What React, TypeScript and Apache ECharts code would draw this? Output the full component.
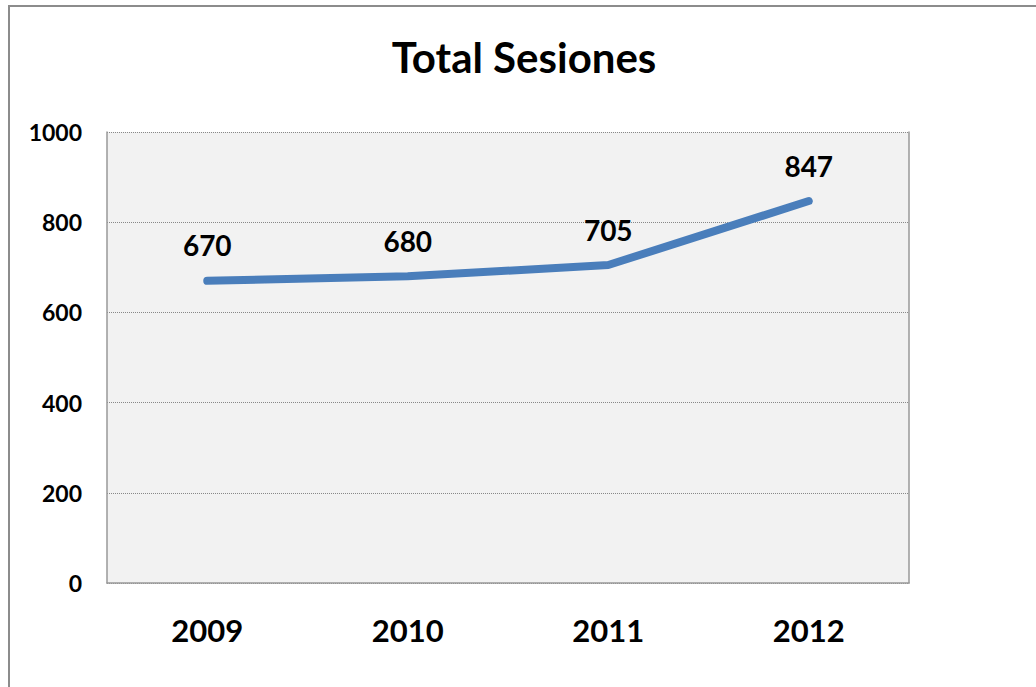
import React, { useEffect, useRef } from "react";
import * as echarts from "echarts";

const title = "Total Sesiones";
const categories = ["2009", "2010", "2011", "2012"];
const sessions = [670, 680, 705, 847];
const yTicks = { min: 0, max: 1000, interval: 200 };

export default function App() {
  const ref = useRef<HTMLDivElement>(null);
  useEffect(() => {
    if (!ref.current) return;
    const chart = echarts.init(ref.current, null, { renderer: "svg" });
    const font = "Lato, 'Open Sans', sans-serif";
    chart.setOption({
      animation: false,
      backgroundColor: "#ffffff",
      title: {
        text: title,
        left: 519,
        top: 31,
        textAlign: "center",
        textStyle: { fontFamily: font, fontWeight: "bold", fontSize: 42, color: "#000" },
      },
      graphic: [
        {
          type: "rect",
          shape: { x: 9, y: 6, width: 1200, height: 800 },
          style: { fill: "none", stroke: "#8c8c8c", lineWidth: 2 },
          silent: true,
        },
      ],
      grid: {
        left: 107,
        top: 132,
        width: 802,
        height: 451,
        show: true,
        backgroundColor: "#f2f2f2",
        borderWidth: 0,
      },
      xAxis: {
        type: "category",
        data: categories,
        boundaryGap: true,
        axisLine: { show: true, lineStyle: { color: "#999", width: 1.5 } },
        axisTick: { show: false },
        axisLabel: {
          fontFamily: font,
          fontWeight: "bold",
          fontSize: 31,
          color: "#000",
          margin: 31,
        },
      },
      yAxis: [
        {
          type: "value",
          min: yTicks.min,
          max: yTicks.max,
          interval: yTicks.interval,
          axisLine: { show: true, lineStyle: { color: "#999", width: 1.5 } },
          axisTick: { show: false },
          axisLabel: {
            fontFamily: font,
            fontWeight: "bold",
            fontSize: 23,
            color: "#000",
            margin: 25,
            formatter: (v: number) => String(v),
          },
          splitLine: { show: true, lineStyle: { color: "#888", type: [1, 1], width: 1 } },
        },
        {
          type: "value",
          position: "right",
          min: yTicks.min,
          max: yTicks.max,
          interval: yTicks.interval,
          axisLine: { show: true, lineStyle: { color: "#999", width: 1.5 } },
          axisTick: { show: false },
          axisLabel: { show: false },
          splitLine: { show: false },
        },
      ],
      series: [
        {
          type: "line",
          data: sessions,
          yAxisIndex: 0,
          symbol: "circle",
          symbolSize: 1,
          showSymbol: true,
          itemStyle: { color: "#4a7ebb" },
          lineStyle: { color: "#4a7ebb", width: 8, cap: "round", join: "round" },
          label: {
            show: true,
            position: "top",
            distance: 21,
            fontFamily: font,
            fontWeight: "bold",
            fontSize: 28,
            color: "#000",
          },
        },
      ],
    });
    return () => chart.dispose();
  }, []);
  return (
    <div
      ref={ref}
      style={{ position: "fixed", left: 0, top: 0, width: 1036, height: 687 }}
    />
  );
}
